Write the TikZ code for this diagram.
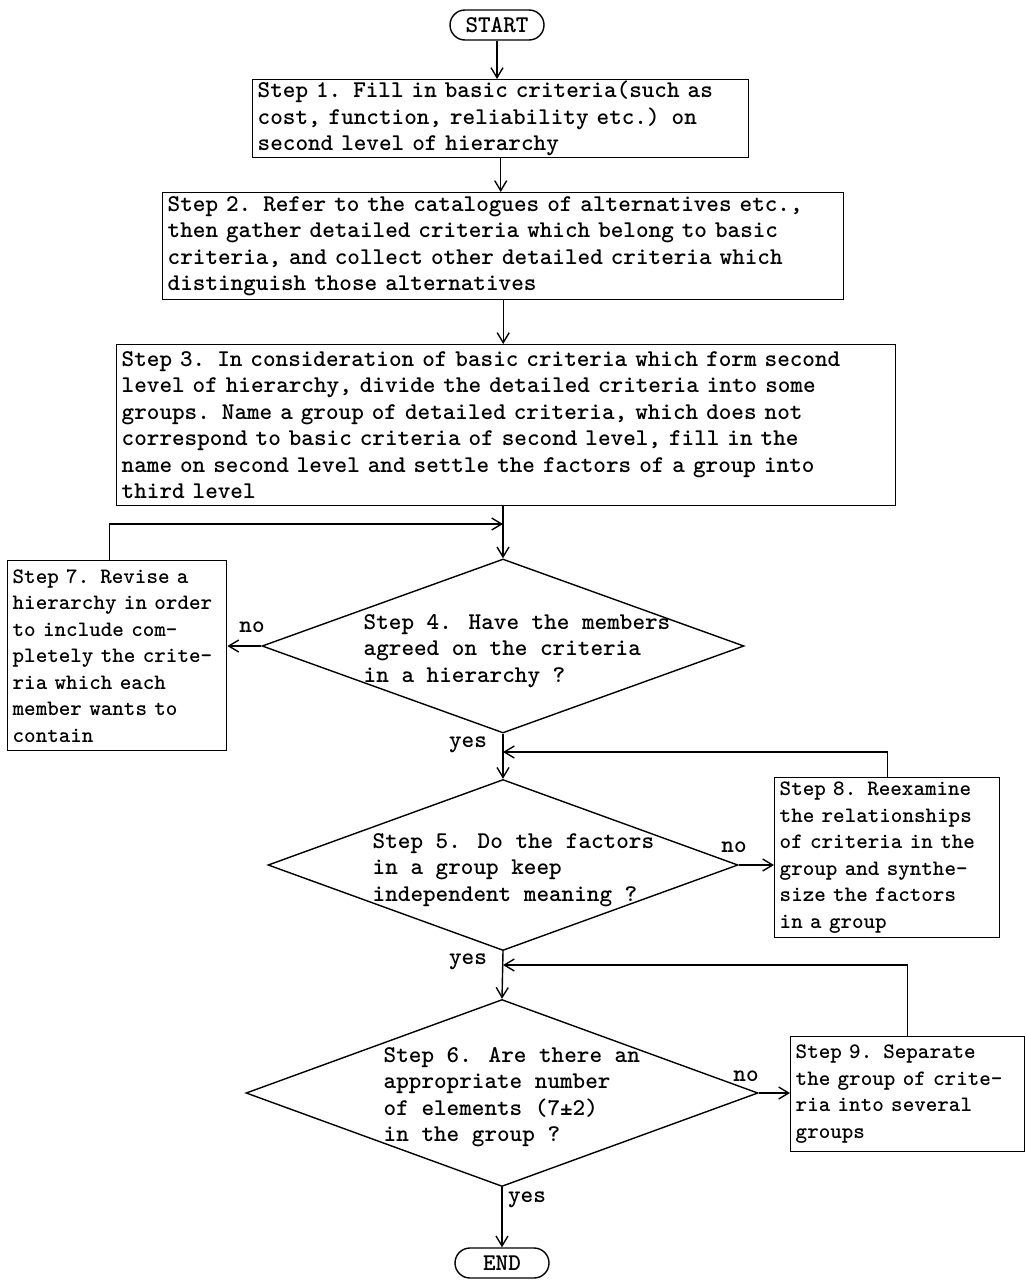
\documentclass[tikz,border=0pt]{standalone}
\usepackage{fontspec}
\usepackage{tikz}
\usetikzlibrary{shapes.geometric,shapes.misc,arrows.meta}
\newfontfamily\chartmono{lmmonolt10-bold}[Extension=.otf]
\newcommand{\chartfont}{\fontsize{12}{13.25}\selectfont\chartmono}
\newcommand{\sidefont}{\fontsize{11}{13.25}\selectfont\chartmono}
\tikzset{basic/.style={draw,fill=none,line width=0.7pt}}
\tikzset{terminal/.style={basic,rounded rectangle,minimum width=47pt,
                          minimum height=15pt,inner sep=0pt,font=\chartfont}}
\tikzset{process/.style={basic,rectangle,anchor=north west,align=left,
                         text width=#1,inner xsep=2.5pt,inner ysep=0pt,font=\chartfont}}
\tikzset{decision/.style={basic,diamond,inner sep=0pt}}
\tikzset{question/.style={anchor=west,align=left,inner sep=0pt,font=\chartfont}}
\tikzset{answer/.style={inner sep=0pt,font=\chartfont}}

\begin{document}
\begin{tikzpicture}[x=0.5pt,y=-0.5pt,line width=0.7pt,
                    >={Straight Barb[length=5pt,width=6pt]}]
    \useasboundingbox (0,0) rectangle (1026,1280);
    % Start and the first three steps
    \node[terminal] (start) at (497,25) {START};
    \node[process=243pt, minimum height=39pt] (s1) at (252,79)
        {Step 1. Fill in basic criteria(such as\\
         cost, function, reliability etc.) on\\
         second level of hierarchy};
    \node[process=335.5pt, minimum height=53.5pt] (s2) at (162,192)
        {Step 2. Refer to the catalogues of alternatives etc.,\\
         then gather detailed criteria which belong to basic\\
         criteria, and collect other detailed criteria which\\
         distinguish those alternatives};
    \node[process=384.5pt, minimum height=80.5pt] (s3) at (116,344)
        {Step 3. In consideration of basic criteria which form second\\
         level of hierarchy, divide the detailed criteria into some\\
         groups. Name a group of detailed criteria, which does not\\
         correspond to basic criteria of second level, fill in the\\
         name on second level and settle the factors of a group into\\
         third level};
    % Decisions
    \node[decision, minimum width=241pt, minimum height=87pt] (d4) at (503,646) {};
    \node[question] (q4) at (363,651)
        {Step 4. Have the members\\agreed on the criteria\\in a hierarchy ?};
    \node[decision, minimum width=235pt, minimum height=85.5pt] (d5) at (503,865) {};
    \node[question] (q5) at (372,870)
        {Step 5. Do the factors\\in a group keep\\independent meaning ?};
    \node[decision, minimum width=256pt, minimum height=93.5pt] (d6) at (502,1093) {};
    \node[question] (q6) at (383,1097)
        {Step 6. Are there an\\appropriate number\\of elements (7±2)\\in the group ?};
    \node[terminal] (end) at (502,1263) {END};
    % Side steps
    \node[process=104.5pt, font=\sidefont, minimum height=95pt] (s7) at (7,560)
        {Step 7. Revise a\\hierarchy in order\\to include com-\\pletely the crite-\\
         ria which each\\member wants to\\contain};
    \node[process=107.5pt, font=\sidefont, minimum height=80pt] (s8) at (774,777)
        {Step 8. Reexamine\\the relationships\\of criteria in the\\group and synthe-\\
         size the factors\\in a group};
    \node[process=112pt, font=\sidefont, minimum height=57.5pt] (s9) at (790,1036)
        {Step 9. Separate\\the group of crite-\\ria into several\\groups};
    % Answers
    \node[answer] (no4) at (252,627) {no};
    \node[answer] (yes4) at (468,745) {yes};
    \node[answer] (no5) at (734,847) {no};
    \node[answer] (yes5) at (468,962) {yes};
    \node[answer] (no6) at (746,1076) {no};
    \node[answer] (yes6) at (527,1200) {yes};
    % Where the loops come back
    \coordinate (j4) at (503,524);
    \coordinate (j5) at (503,752);
    \coordinate (j6) at (503,965);
    % Main line
    \draw[->] (start.south) -- (start.south |- s1.north);
    \draw[->] (s1.south) -- (s1.south |- s2.north);
    \draw[->] (s2.south) -- (s2.south |- s3.north);
    \draw[->] (d4.north |- s3.south) -- (d4.north);
    \draw[->] (d4.south) -- (d5.north);
    \draw[->] (d5.south) -- (d6.north);
    \draw[->] (d6.south) -- (end.north);
    % No branches
    \draw[->] (d4.west) -- (d4.west -| s7.east);
    \draw[->] (d5.east) -- (d5.east -| s8.west);
    \draw[->] (d6.east) -- (d6.east -| s9.west);
    % Back to the main line
    \draw[->] ([xshift=-4pt]s7.north) |- (j4);
    \draw[->] (s8.north) |- (j5);
    \draw[->] (s9.north) |- (j6);
\end{tikzpicture}
\end{document}
